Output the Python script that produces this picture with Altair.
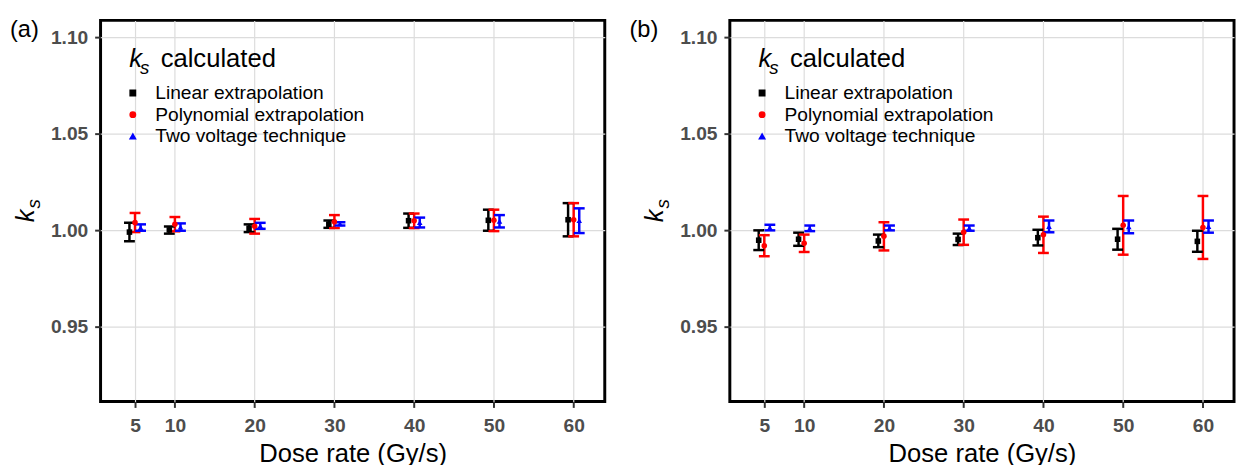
import altair as alt
import pandas as pd

doses = [5, 10, 20, 30, 40, 50, 60]
methods = ["Linear extrapolation", "Polynomial extrapolation", "Two voltage technique"]
colors = ["black", "red", "blue"]
shapes = ["square", "circle", "triangle-up"]

# Panel (a)
a_lin = [0.9991, 1.0002, 1.0011, 1.0032, 1.0050, 1.0052, 1.0055]
a_lin_lo = [0.9944, 0.9983, 0.9991, 1.0013, 1.0013, 0.9998, 0.9969]
a_lin_hi = [1.0039, 1.0020, 1.0031, 1.0051, 1.0087, 1.0107, 1.0141]
a_pol = [1.0040, 1.0032, 1.0021, 1.0045, 1.0050, 1.0052, 1.0055]
a_pol_lo = [0.9991, 0.9995, 0.9983, 1.0012, 1.0012, 0.9996, 0.9969]
a_pol_hi = [1.0090, 1.0069, 1.0059, 1.0079, 1.0087, 1.0107, 1.0141]
a_two = [1.0014, 1.0017, 1.0023, 1.0034, 1.0040, 1.0047, 1.0050]
a_two_lo = [0.9998, 0.9998, 1.0008, 1.0025, 1.0015, 1.0015, 0.9986]
a_two_hi = [1.0031, 1.0036, 1.0039, 1.0042, 1.0066, 1.0079, 1.0114]

# Panel (b)
b_lin = [0.9949, 0.9954, 0.9945, 0.9953, 0.9962, 0.9954, 0.9943]
b_lin_lo = [0.9898, 0.9920, 0.9913, 0.9924, 0.9922, 0.9900, 0.9889]
b_lin_hi = [1.0000, 0.9988, 0.9978, 0.9983, 1.0003, 1.0008, 0.9998]
b_pol = [0.9920, 0.9933, 0.9970, 0.9990, 0.9977, 1.0026, 1.0015]
b_pol_lo = [0.9866, 0.9888, 0.9896, 0.9925, 0.9883, 0.9874, 0.9852]
b_pol_hi = [0.9975, 0.9978, 1.0042, 1.0056, 1.0071, 1.0178, 1.0178]
b_two = [1.0014, 1.0010, 1.0012, 1.0012, 1.0020, 1.0018, 1.0020]
b_two_lo = [1.0000, 0.9996, 1.0000, 0.9998, 0.9990, 0.9985, 0.9988]
b_two_hi = [1.0029, 1.0025, 1.0025, 1.0025, 1.0051, 1.0051, 1.0051]

y_ticks = [0.95, 1.00, 1.05, 1.10]
FONT = "Liberation Sans"
W, H = 512, 387
LEG_FS = 19.5


def make_df(series):
    rows = []
    for m, (k, lo, hi) in zip(methods, series):
        for d, kv, l, h in zip(doses, k, lo, hi):
            rows.append({"dose": d, "method": m, "k": kv, "lo": l, "hi": h})
    return pd.DataFrame(rows)


def txt(s, x, y, size, style="normal", angle=0):
    return alt.Chart(pd.DataFrame({"t": [s]})).mark_text(
        align="left", baseline="alphabetic", font=FONT, fontSize=size,
        fontStyle=style, angle=angle, color="black"
    ).encode(x=alt.value(x), y=alt.value(y), text="t:N")


def panel(df, tag, tag_x):
    xs = alt.Scale(domain=[0.68, 63.9], nice=False, zero=False)
    ys = alt.Scale(domain=[0.9114, 1.1087], nice=False, zero=False)
    xenc = alt.X("xd:Q", scale=xs, axis=alt.Axis(values=doses, title="Dose rate (Gy/s)", format="d"))
    yaxis = alt.Axis(values=y_ticks, title=None, format=".2f")
    legend = alt.Legend(orient="none", legendX=23, legendY=64, title=None,
                        labelFontSize=LEG_FS, labelFont=FONT, labelColor="black", labelLimit=0,
                        symbolSize=30, labelOffset=13, rowPadding=1, padding=0)
    cenc = alt.Color("method:N", scale=alt.Scale(domain=methods, range=colors), legend=legend)
    senc = alt.Shape("method:N", scale=alt.Scale(domain=methods, range=shapes), legend=legend)

    base = alt.Chart(df).transform_calculate(
        xd="datum.dose + (datum.method == 'Linear extrapolation' ? -0.7 : (datum.method == 'Two voltage technique' ? 0.7 : 0))"
    )
    rules = base.mark_rule(strokeWidth=2.5).encode(
        x=xenc, y=alt.Y("lo:Q", scale=ys, axis=yaxis), y2="hi:Q", color=cenc)
    cap_lo = base.mark_tick(orient="horizontal", size=11, thickness=2.5, opacity=1).encode(
        x=xenc, y=alt.Y("lo:Q", scale=ys, axis=yaxis), color=cenc)
    cap_hi = base.mark_tick(orient="horizontal", size=11, thickness=2.5, opacity=1).encode(
        x=xenc, y=alt.Y("hi:Q", scale=ys, axis=yaxis), color=cenc)
    pts = base.mark_point(filled=True, size=32, opacity=1).encode(
        x=xenc, y=alt.Y("k:Q", scale=ys, axis=yaxis), color=cenc, shape=senc)

    layers = [rules, cap_lo, cap_hi, pts,
              txt("k", 29, 47, 26, "italic"),
              txt("s", 40, 54, 19, "italic"),
              txt("calculated", 61, 47, 26),
              txt("k", -68, 205, 26, "italic", 270),
              txt("s", -62, 191, 19, "italic", 270),
              txt(tag, tag_x, 17, 24)]
    return alt.layer(*layers).properties(width=W, height=H)


pa = panel(make_df([(a_lin, a_lin_lo, a_lin_hi), (a_pol, a_pol_lo, a_pol_hi), (a_two, a_two_lo, a_two_hi)]), "(a)", -92)
pb = panel(make_df([(b_lin, b_lin_lo, b_lin_hi), (b_pol, b_pol_lo, b_pol_hi), (b_two, b_two_lo, b_two_hi)]), "(b)", -102)

chart = alt.hconcat(pa, pb, bounds="flush", spacing=127).resolve_scale(
    color="independent", shape="independent"
).resolve_legend(color="independent", shape="independent").properties(
    padding={"left": 0, "top": 5, "right": 0, "bottom": 0}
).configure_view(stroke="black", strokeWidth=3).configure_axis(
    domain=False, grid=True, gridColor="#DCDCDC", gridWidth=1.2,
    ticks=True, tickColor="#333333", tickWidth=2, tickSize=6,
    labelFont=FONT, labelFontSize=19.5, labelFontWeight="bold", labelColor="#4D4D4D",
    titleFont=FONT, titleFontSize=26, titleFontWeight="normal", titleColor="black"
).configure_axisX(labelPadding=9, titlePadding=6).configure_axisY(labelPadding=7).configure_legend(
    labelFontSize=LEG_FS, labelFont=FONT, labelLimit=0, symbolSize=30, labelOffset=13, rowPadding=1
)

chart.save("out.html", embed_options={"renderer": "svg", "actions": False})
